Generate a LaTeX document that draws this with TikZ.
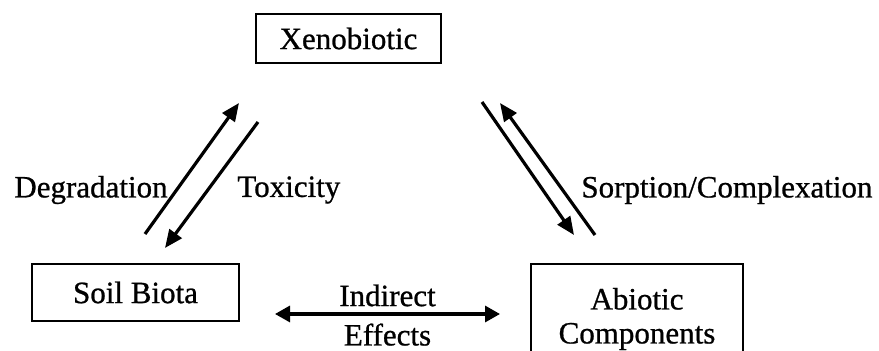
\documentclass[tikz,border=0pt]{standalone}
\usepackage{fontspec}
\setmainfont[FakeBold=0.8]{Liberation Serif}
\usetikzlibrary{arrows.meta}
\begin{document}
\begin{tikzpicture}[x=0.5pt,y=-0.5pt,
  every node/.style={font=\fontsize{15.5}{15.5}\selectfont, inner sep=0pt},
  box/.style={draw, line width=1.3pt, rectangle},
  arr/.style={line width=1.6pt, -{Triangle[length=9pt,width=7.5pt]}},
  biarr/.style={line width=1.6pt, {Triangle[length=7.5pt,width=8pt]}-{Triangle[length=7.5pt,width=8pt]}},
  lbl/.style={}]
\useasboundingbox (0,0) rectangle (879,351);
\node[box, minimum width=92.5pt, minimum height=24.5pt] (xeno) at (348.5,38.5) {Xenobiotic};
\node[box, minimum width=103.5pt, minimum height=28.5pt] (soil) at (135.5,292.5) {Soil Biota};
\node[box, minimum width=106pt, minimum height=55pt, align=center] (abio) at (637,319) {Abiotic\\[1.5pt]Components};
% free ends
\coordinate (d1) at (145,234); \coordinate (d2) at (239,103);
\coordinate (t1) at (258,122); \coordinate (t2) at (165,248);
\coordinate (s1) at (482,102); \coordinate (s2) at (574,235);
\coordinate (c1) at (595,235); \coordinate (c2) at (500,103);
\coordinate (i1) at (275,314); \coordinate (i2) at (500,314);
\draw[arr] (d1) -- (d2);
\draw[arr] (t1) -- (t2);
\draw[arr] (s1) -- (s2);
\draw[arr] (c1) -- (c2);
\draw[biarr] (i1) -- node[above=3pt] (ind) {Indirect} node[below=4pt] (eff) {Effects} (i2);
\node[anchor=east] (deg) at (168,190) {Degradation};
\node[anchor=west] (tox) at (237,190) {Toxicity};
\node[anchor=west] (sorp) at (581,190) {Sorption/Complexation};
\end{tikzpicture}
\end{document}
